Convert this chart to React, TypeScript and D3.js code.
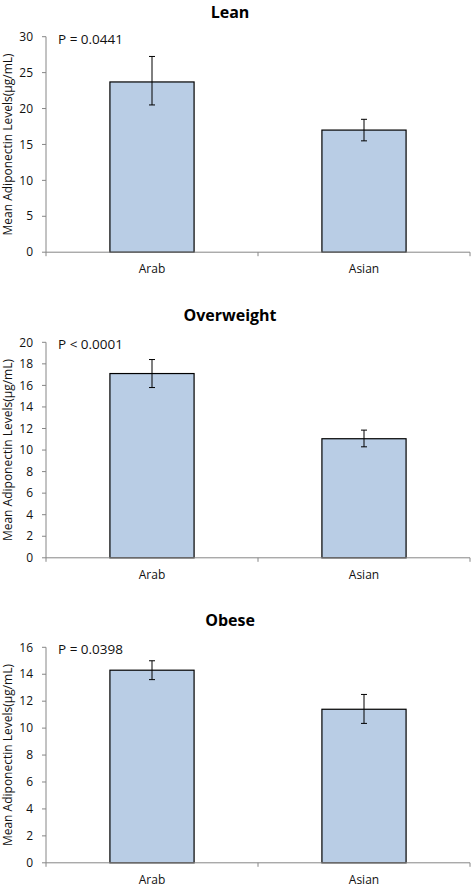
import React from "react";
import * as d3 from "d3";

const categories = ["Arab", "Asian"];
const panelTitles = ["Lean", "Overweight", "Obese"];
const pLabels = ["P = 0.0441", "P < 0.0001", "P = 0.0398"];
const yMaxes = [30, 20, 16];
const yStepsArr = [5, 2, 2];
const meansLean = [23.7, 17.0];
const lowLean = [20.5, 15.5];
const highLean = [27.25, 18.5];
const meansOver = [17.1, 11.05];
const lowOver = [15.8, 10.3];
const highOver = [18.4, 11.85];
const meansObese = [14.3, 11.4];
const lowObese = [13.6, 10.35];
const highObese = [15.0, 12.5];

const panelMeans = [meansLean, meansOver, meansObese];
const panelLow = [lowLean, lowOver, lowObese];
const panelHigh = [highLean, highOver, highObese];

const W = 472;
const H = 887;
const plotTops = [36.7, 342.3, 647.3];
const plotH = 215.5;
const left = 46;
const right = 470;
const font = "'Open Sans', sans-serif";

function Panel({ idx }: { idx: number }) {
  const top = plotTops[idx];
  const bottom = top + plotH;
  const y = d3.scaleLinear().domain([0, yMaxes[idx]]).range([bottom, top]);
  const x = d3.scaleBand().domain(categories).range([left, right]).paddingInner(0).paddingOuter(0);
  const bw = x.bandwidth();
  const barW = bw * 0.397;
  const ticks = d3.range(0, yMaxes[idx] + 0.001, yStepsArr[idx]);
  const means = panelMeans[idx];
  const lows = panelLow[idx];
  const highs = panelHigh[idx];
  const axisColor = "#868686";
  return (
    <g>
      <text x={230} y={Math.max(top - 21.5, 17.5)} textAnchor="middle" fontFamily={font} fontWeight="bold" fontSize={16} fill="#000">
        {panelTitles[idx]}
      </text>
      <text x={58} y={top + 7} fontFamily={font} fontSize={13.5} fill="#111">
        {pLabels[idx]}
      </text>
      <text
        transform={`translate(12,${(top + bottom) / 2}) rotate(-90)`}
        textAnchor="middle"
        fontFamily={font}
        fontSize={12}
        fill="#111"
      >
        Mean Adiponectin Levels(µg/mL)
      </text>
      {categories.map((c, i) => {
        const cx = (x(c) as number) + bw / 2;
        return (
          <g key={c}>
            <rect
              x={cx - barW / 2}
              y={y(means[i])}
              width={barW}
              height={bottom - y(means[i])}
              fill="#b9cde5"
              stroke="#000"
              strokeWidth={1.2}
            />
            <line x1={cx} x2={cx} y1={y(highs[i])} y2={y(lows[i])} stroke="#000" strokeWidth={1} />
            <line x1={cx - 3} x2={cx + 3} y1={y(highs[i])} y2={y(highs[i])} stroke="#000" strokeWidth={1} />
            <line x1={cx - 3} x2={cx + 3} y1={y(lows[i])} y2={y(lows[i])} stroke="#000" strokeWidth={1} />
            <text x={cx} y={bottom + 21} textAnchor="middle" fontFamily={font} fontSize={12} fill="#111">
              {c}
            </text>
          </g>
        );
      })}
      <line x1={left} x2={left} y1={top} y2={bottom} stroke={axisColor} strokeWidth={1} />
      <line x1={left} x2={right} y1={bottom} y2={bottom} stroke={axisColor} strokeWidth={1} />
      {ticks.map((t) => (
        <g key={t}>
          <line x1={left - 4} x2={left} y1={y(t)} y2={y(t)} stroke={axisColor} strokeWidth={1} />
          <text x={33} y={y(t)} dy="0.35em" textAnchor="end" fontFamily={font} fontSize={12} fill="#111">
            {t}
          </text>
        </g>
      ))}
      {[left, left + bw, right].map((tx, i) => (
        <line key={i} x1={tx} x2={tx} y1={bottom} y2={bottom + 4} stroke={axisColor} strokeWidth={1} />
      ))}
    </g>
  );
}

export default function App() {
  return (
    <svg
      width={W}
      height={H}
      style={{ position: "absolute", left: 0, top: 0, background: "#fff" }}
    >
      <rect width={W} height={H} fill="#fff" />
      {panelTitles.map((_, i) => (
        <Panel key={i} idx={i} />
      ))}
    </svg>
  );
}
